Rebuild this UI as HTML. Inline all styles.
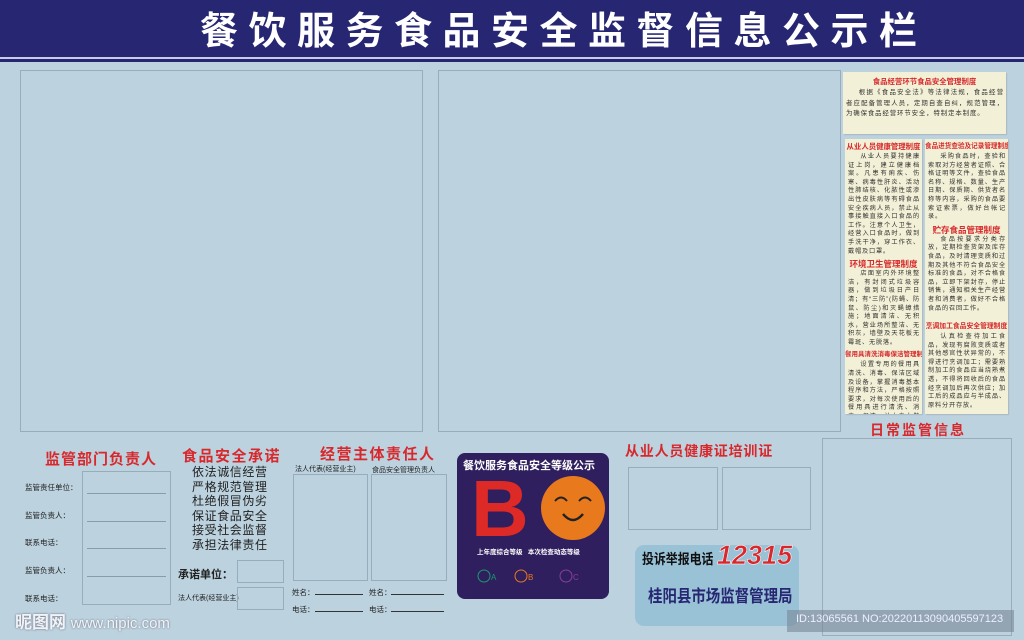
<!DOCTYPE html>
<html><head><meta charset="utf-8"><style>
*{margin:0;padding:0;box-sizing:border-box}
body{width:1024px;height:640px;position:relative;overflow:hidden;background:#bcd2df;font-family:"Liberation Sans","Noto Sans CJK SC",sans-serif}
.a{position:absolute}
.bx{position:absolute;border:1px solid #97adbd}
.red{color:#d8282c;font-weight:bold;position:absolute;white-space:nowrap}
.cr{position:absolute;background:#f2f0d6;box-shadow:1px 1px 1px #a8b8c0;overflow:hidden}
.cr h4{color:#d8282c;font-size:7.4px;text-align:center;white-space:nowrap;margin:3px 0 1px;line-height:10px}
.cr p{font-size:6.2px;line-height:8.6px;letter-spacing:0.8px;color:#333;text-indent:2em;padding:0 2px 0 3px;text-align:justify}
.lab{position:absolute;font-size:7.5px;color:#222;white-space:nowrap}
.ln{position:absolute;border-top:1px solid #8a9cab;height:0}
</style></head><body>
<div class="a" style="left:0;top:0;width:1024px;height:57px;background:#262672"></div>
<div class="a" style="left:0;top:57px;width:1024px;height:2px;background:#c6cdea"></div>
<div class="a" style="left:0;top:59px;width:1024px;height:3px;background:#262672"></div>
<div class="a" style="left:200px;top:12px;font-size:38px;font-weight:bold;color:#fff;letter-spacing:10.5px;white-space:nowrap;line-height:40px">餐饮服务食品安全监督信息公示栏</div>

<div class="bx" style="left:20px;top:70px;width:403px;height:362px"></div>
<div class="bx" style="left:438px;top:70px;width:403px;height:362px"></div>

<div class="cr" style="left:843px;top:72px;width:163px;height:62px">
<h4 style="margin-top:5px">食品经营环节食品安全管理制度</h4>
<p style="font-size:6.4px;line-height:10.5px;letter-spacing:0.9px">根据《食品安全法》等法律法规，食品经营者应配备管理人员，定期自查自纠，规范管理，为确保食品经营环节安全，特制定本制度。</p></div>
<div class="cr" style="left:845px;top:139px;width:77px;height:275px">
<h4>从业人员健康管理制度</h4>
<p>从业人员要持健康证上岗，建立健康档案。凡患有痢疾、伤寒、病毒性肝炎、活动性肺结核、化脓性或渗出性皮肤病等有碍食品安全疾病人员，禁止从事接触直接入口食品的工作。注意个人卫生，经营入口食品时，做到手洗干净，穿工作衣、戴帽及口罩。</p>
<h4 style="font-size:8.5px;margin-top:3px">环境卫生管理制度</h4>
<p>店面室内外环境整洁，有封闭式垃圾容器，做到垃圾日产日清；有“三防”(防蝇、防鼠、防尘)和灭蝇蟑措施；地面清洁、无积水，营业场所整洁、无积灰，墙壁及天花板无霉斑、无脱落。</p>
<h4 style="font-size:6.5px;margin-top:3px">餐用具清洗消毒保洁管理制度</h4>
<p>设置专用的餐用具清洗、消毒、保洁区域及设备，掌握消毒基本程序和方法，严格按照要求，对每次使用后的餐用具进行清洗、消毒、保洁，并由专人做好餐用具消毒记录。</p></div>
<div class="cr" style="left:925px;top:139px;width:83px;height:275px">
<h4 style="font-size:6.6px">食品进货查验及记录管理制度</h4>
<p>采购食品时，查验和索取对方经营者证照、合格证明等文件，查验食品名称、规格、数量、生产日期、保质期、供货者名称等内容，采购的食品要索证索票，做好台帐记录。</p>
<h4 style="font-size:8.5px">贮存食品管理制度</h4>
<p>食品按要求分类存放，定期检查货架及库存食品，及时清理变质和过期及其他不符合食品安全标准的食品，对不合格食品，立即下架封存，停止销售，通知相关生产经营者和消费者，做好不合格食品的召回工作。</p>
<h4 style="margin-top:9px;font-size:6.8px">烹调加工食品安全管理制度</h4>
<p>认真检查待加工食品，发现有腐败变质或者其他感官性状异常的，不得进行烹调加工；需要熟制加工的食品应当烧熟煮透，不得将回收后的食品经烹调加后再次供应；加工后的成品应与半成品、原料分开存放。</p></div>

<!-- 监管部门负责人 -->
<div class="red" style="left:45px;top:448px;font-size:15px;letter-spacing:1px">监管部门负责人</div>
<div class="bx" style="left:82px;top:471px;width:89px;height:134px"></div>
<div class="lab" style="left:25px;top:482px">监管责任单位：</div>
<div class="lab" style="left:25px;top:510px">监管负责人：</div>
<div class="lab" style="left:25px;top:537px">联系电话：</div>
<div class="lab" style="left:25px;top:565px">监管负责人：</div>
<div class="lab" style="left:25px;top:593px">联系电话：</div>
<div class="ln" style="left:87px;top:493px;width:79px"></div>
<div class="ln" style="left:87px;top:521px;width:79px"></div>
<div class="ln" style="left:87px;top:548px;width:79px"></div>
<div class="ln" style="left:87px;top:576px;width:79px"></div>

<!-- 食品安全承诺 -->
<div class="red" style="left:182px;top:445px;font-size:15px;letter-spacing:1.5px">食品安全承诺</div>
<div class="a" style="left:192px;top:465px;font-size:12px;line-height:14.5px;letter-spacing:0.6px;color:#222">依法诚信经营<br>严格规范管理<br>杜绝假冒伪劣<br>保证食品安全<br>接受社会监督<br>承担法律责任</div>
<div class="a" style="left:178px;top:566px;font-size:11px;font-weight:bold;color:#222;white-space:nowrap">承诺单位：</div>
<div class="a" style="left:178px;top:593px;font-size:7px;color:#222;white-space:nowrap">法人代表(经营业主)</div>
<div class="bx" style="left:237px;top:560px;width:47px;height:23px"></div>
<div class="bx" style="left:237px;top:587px;width:47px;height:23px"></div>

<!-- 经营主体责任人 -->
<div class="red" style="left:320px;top:443px;font-size:15px;letter-spacing:1.5px">经营主体责任人</div>
<div class="lab" style="left:295px;top:464px;font-size:7px">法人代表(经营业主)</div>
<div class="lab" style="left:372px;top:465px;font-size:7px">食品安全管理负责人</div>
<div class="bx" style="left:293px;top:474px;width:75px;height:107px"></div>
<div class="bx" style="left:371px;top:474px;width:76px;height:107px"></div>
<div class="lab" style="left:292px;top:587px">姓名：</div>
<div class="lab" style="left:369px;top:587px">姓名：</div>
<div class="lab" style="left:292px;top:604px">电话：</div>
<div class="lab" style="left:369px;top:604px">电话：</div>
<div class="ln" style="left:315px;top:594px;width:48px;border-color:#333"></div>
<div class="ln" style="left:391px;top:594px;width:53px;border-color:#333"></div>
<div class="ln" style="left:315px;top:611px;width:48px;border-color:#333"></div>
<div class="ln" style="left:391px;top:611px;width:53px;border-color:#333"></div>

<!-- grade -->
<div class="a" style="left:457px;top:453px;width:152px;height:146px;background:#2f1f5e;border-radius:8px"></div>
<div class="a" style="left:463px;top:457px;font-size:11px;font-weight:bold;color:#fff;white-space:nowrap">餐饮服务食品安全等级公示</div>
<div class="a" style="left:471px;top:469px;font-size:80px;font-weight:bold;color:#dd2a26;line-height:80px;font-family:'Liberation Sans',sans-serif">B</div>
<svg class="a" style="left:539px;top:474px" width="68" height="68"><circle cx="34" cy="34" r="32" fill="#e8791c"/><path d="M16 27 q6-7 12 0 M40 27 q6-7 12 0" stroke="#222" stroke-width="2" fill="none"/><path d="M24 40 q10 12 20 0" stroke="#222" stroke-width="2.5" fill="none"/></svg>
<div class="a" style="left:477px;top:546px;font-size:6.5px;color:#fff;white-space:nowrap;font-weight:bold">上年度综合等级 &nbsp;&nbsp;本次检查动态等级</div>
<svg class="a" style="left:476px;top:568px" width="120" height="16"><g fill="none" stroke-width="1"><circle cx="8" cy="8" r="6" stroke="#1a9a6a"/><circle cx="45" cy="8" r="6" stroke="#e8791c"/><circle cx="90" cy="8" r="6" stroke="#8a3f9a"/></g><text x="15" y="12" font-size="8" fill="#1a9a6a">A</text><text x="52" y="12" font-size="8" fill="#e8791c">B</text><text x="97" y="12" font-size="8" fill="#8a3f9a">C</text></svg>

<!-- 从业人员 -->
<div class="red" style="left:625px;top:441px;font-size:14px;letter-spacing:0.8px">从业人员健康证培训证</div>
<div class="bx" style="left:628px;top:467px;width:90px;height:63px"></div>
<div class="bx" style="left:722px;top:467px;width:89px;height:63px"></div>
<div class="a" style="left:635px;top:545px;width:164px;height:81px;background:#99c2d7;border-radius:9px"></div>
<div class="a" style="left:642px;top:549px;font-size:14px;font-weight:bold;color:#111;white-space:nowrap;line-height:20px;transform:scaleX(0.85);transform-origin:left">投诉举报电话</div>
<div class="a" style="left:717px;top:540px;font-size:27px;font-weight:bold;font-style:italic;color:#d8282c;white-space:nowrap;-webkit-text-stroke:0.5px #fff">12315</div>
<div class="a" style="left:648px;top:582px;font-size:17px;font-weight:bold;color:#262672;white-space:nowrap;transform:scaleX(0.85);transform-origin:left">桂阳县市场监督管理局</div>

<!-- 日常监管信息 -->
<div class="red" style="left:870px;top:420px;font-size:14px;letter-spacing:2px">日常监管信息</div>
<div class="bx" style="left:822px;top:438px;width:190px;height:198px"></div>

<div class="a" style="left:15px;top:608px;font-size:17px;font-weight:bold;color:#f0f4f8;white-space:nowrap;text-shadow:0 0 2px #667">昵图网 <span style="font-size:15px;font-weight:normal">www.nipic.com</span></div>
<div class="a" style="left:787px;top:610px;width:227px;height:22px;background:rgba(120,135,150,0.6)"></div>
<div class="a" style="left:796px;top:613px;font-size:11px;color:#eef;white-space:nowrap">ID:13065561 NO:20220113090405597123</div>
</body></html>
